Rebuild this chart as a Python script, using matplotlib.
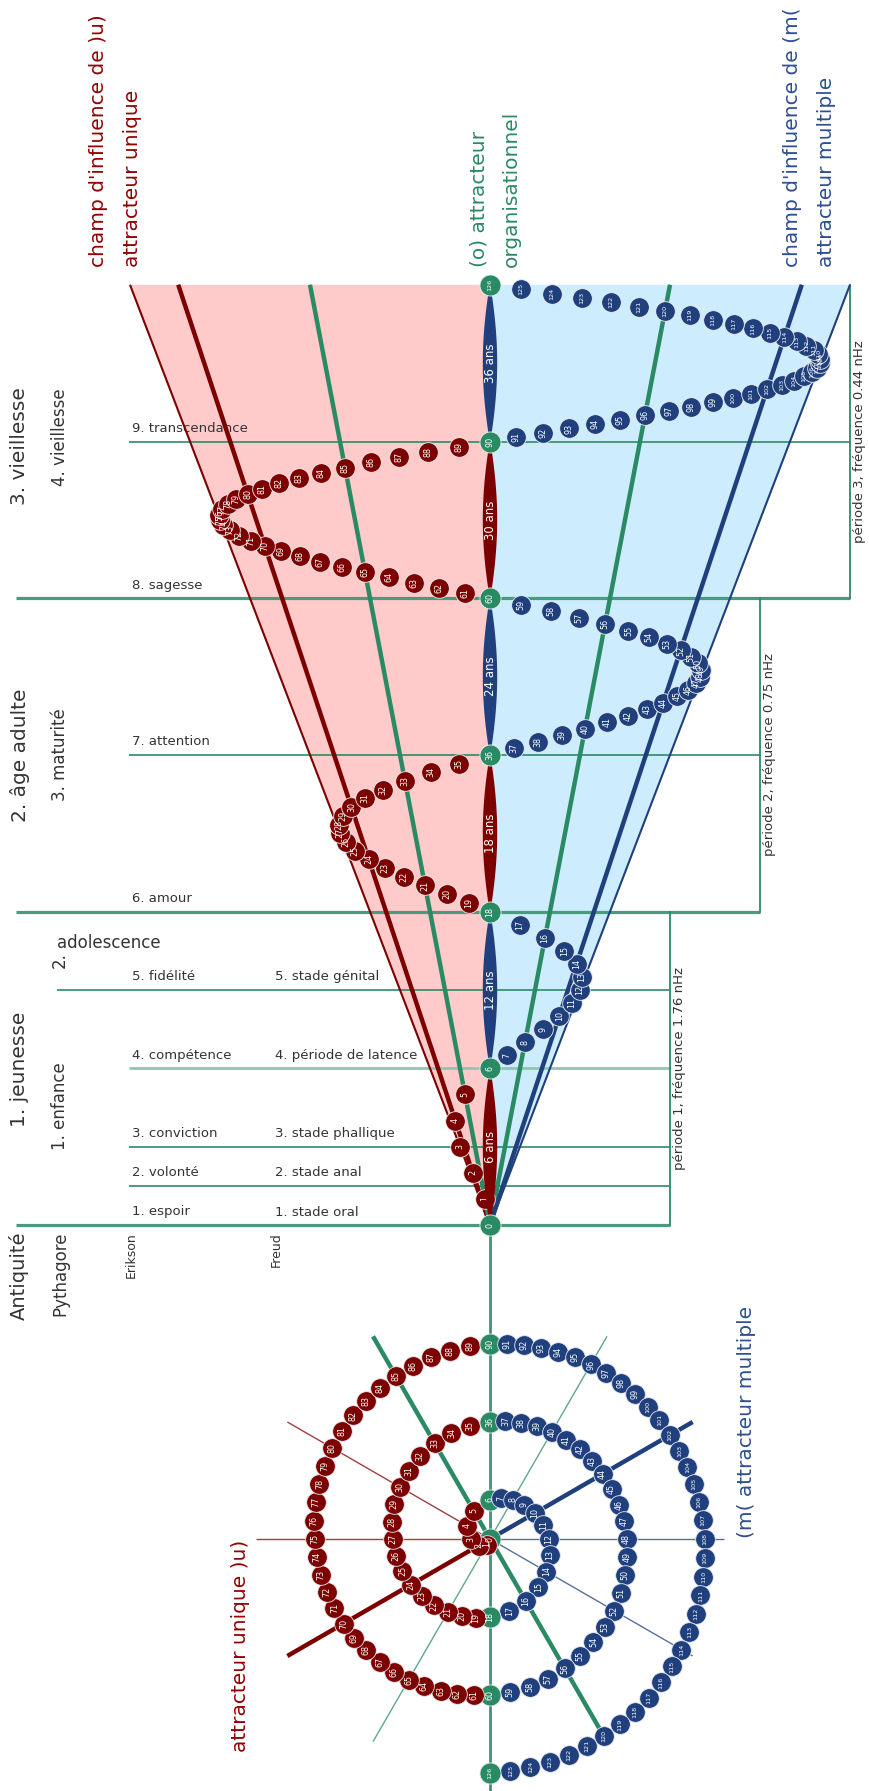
import numpy as np
import matplotlib.pyplot as plt
from matplotlib.patches import Polygon

# ---- data ----
green_ages = [0, 6, 18, 36, 60, 90, 126]
span_labels = ['6 ans', '12 ans', '18 ans', '24 ans', '30 ans', '36 ans']
dot_ages = [n for n in range(1, 126) if n not in green_ages]

stage_ages = [0, 1.5, 3, 6, 12, 18, 36, 60, 90]
erikson = ['1. espoir', '2. volonté', '3. conviction', '4. compétence', '5. fidélité',
           '6. amour', '7. attention', '8. sagesse', '9. transcendance']
freud = ['1. stade oral', '2. stade anal', '3. stade phallique',
         '4. période de latence', '5. stade génital']

period_bounds = [(0, 18), (18, 60), (60, 126)]
period_labels = ['période 1, fréquence 1.76 nHz', 'période 2, fréquence 0.75 nHz',
                 'période 3, fréquence 0.44 nHz']

# polar directions of the rays (0 = up, clockwise) and their style
ray_angles = [270, 300, 240, 330, 150, 210, 30, 60, 90, 120]
ray_colors = ['red', 'red', 'red', 'green', 'green', 'green', 'green', 'blue', 'blue', 'blue']
ray_thick = [False, False, True, True, True, False, False, True, False, False]

# ---- layout ----
CX = 490          # axis x
Y0 = 1225         # age 0 in the cone view
STEP = 156.7      # px per period in the cone view
R_TOP = 60        # px of radius per period (cone view)
PY = 1539         # polar view centre y
R_POL = 39        # px of radius per period (polar view)
line_x0 = [16, 129, 129, 129, 57, 16, 129, 16, 129]
bracket_x = [670, 760, 850]

RED = '#7d0000'
BLUE = '#1f3f7d'
GREEN = '#2a8a64'
PINK = '#ffcaca'
SKY = '#cdecfd'
TXT = '#333333'
col = {'red': RED, 'green': GREEN, 'blue': BLUE}
DOT_S = 200
GDOT_S = 230


def phase(age):
    k = 1
    while 3 * k * (k + 1) < age:
        k += 1
    t = k - 1 + (age - 3 * k * (k - 1)) / (6 * k)
    side = -1 if k % 2 else 1
    return t, np.pi * (t - (k - 1)), side


def top_xy(age):
    t, th, side = phase(age)
    return CX + side * R_TOP * t * np.sin(th), Y0 - STEP * t


def pol_xy(age):
    t, th, side = phase(age)
    r = R_POL * t
    return CX + side * r * np.sin(th), PY - side * r * np.cos(th)


def num_size(n):
    return 5.8 if n < 100 else 4.6


fig = plt.figure(figsize=(8.69, 17.91), dpi=100)
ax = fig.add_axes([0, 0, 1, 1])
ax.set_xlim(0, 869)
ax.set_ylim(1791, 0)
ax.axis('off')

t_max = 6
y_top = Y0 - STEP * t_max

# cone fills
ax.add_patch(Polygon([(CX, Y0), (CX - R_TOP * t_max, y_top), (CX, y_top)],
                     closed=True, fc=PINK, ec='none', zorder=1))
ax.add_patch(Polygon([(CX, Y0), (CX + R_TOP * t_max, y_top), (CX, y_top)],
                     closed=True, fc=SKY, ec='none', zorder=1))

# stage lines and labels
for i, a in enumerate(stage_ages):
    y = Y0 - STEP * phase(a)[0]
    xr = bracket_x[0] if a < 18 else (bracket_x[1] if a < 60 else bracket_x[2])
    if a in (0, 18, 60):
        lw, c = 2.3, '#4a9b7d'
    elif a == 6:
        lw, c = 2.0, '#8fc6b1'
    else:
        lw, c = 1.2, '#2e8a66'
    ax.plot([line_x0[i], xr], [y, y], color=c, lw=lw, zorder=2, solid_capstyle='butt')
    ax.text(132, y - 13, erikson[i], fontsize=9.5, color=TXT, va='center', ha='left')
    if i < len(freud):
        ax.text(275, y - 13, freud[i], fontsize=9.5, color=TXT, va='center', ha='left')

# period brackets
for (a0, a1), lab, bx in zip(period_bounds, period_labels, bracket_x):
    ya = Y0 - STEP * phase(a0)[0]
    yb = Y0 - STEP * phase(a1)[0]
    ax.plot([bx, bx], [ya, yb], color='#2e8a66', lw=1.3, zorder=2)
    ax.text(bx + 10, (ya + yb) / 2, lab, rotation=90, fontsize=9.5, color=TXT,
            ha='center', va='center')

# cone rays (projection of polar rays)
for ang, c, thick in zip(ray_angles, ray_colors, ray_thick):
    xe = CX + R_TOP * t_max * np.sin(np.radians(ang))
    ax.plot([CX, xe], [Y0, y_top], color=col[c], lw=3.2 if thick else 1.5,
            zorder=3 + (0.1 if thick else 0), solid_capstyle='butt')

# centre axis
ax.plot([CX, CX], [y_top, 1791], color='#3d9474', lw=2, zorder=2.5)

# cone view dots
for n in dot_ages:
    x, y = top_xy(n)
    c = RED if phase(n)[2] < 0 else BLUE
    ax.scatter([x], [y], s=DOT_S, color=c, edgecolors='#f0f0f0', linewidths=0.6, zorder=4 + n / 1000)
    ax.text(x, y, str(n), rotation=90, color='white', fontsize=num_size(n),
            ha='center', va='center', zorder=4.5 + n / 1000)

# lenses between green dots
for k in range(6):
    ya = Y0 - STEP * k
    yb = Y0 - STEP * (k + 1)
    s = np.linspace(0, 1, 80)
    hw = 7.2 * np.sin(np.pi * s) ** 0.85
    ys = ya + (yb - ya) * s
    pts = list(zip(CX - hw, ys)) + list(zip((CX + hw)[::-1], ys[::-1]))
    ax.add_patch(Polygon(pts, closed=True, fc=RED if k % 2 == 0 else BLUE, ec='none', zorder=5))
    ax.text(CX, (ya + yb) / 2, span_labels[k], rotation=90, color='white', fontsize=8.5,
            ha='center', va='center', zorder=5.5)

for a in green_ages:
    x, y = top_xy(a)
    ax.scatter([x], [y], s=GDOT_S, color=GREEN, edgecolors='#f0f0f0', linewidths=0.6, zorder=6)
    ax.text(x, y, str(a), rotation=90, color='white', fontsize=num_size(a),
            ha='center', va='center', zorder=6.5)

# polar view rays
R_END = R_POL * t_max
for ang, c, thick in zip(ray_angles, ray_colors, ray_thick):
    th = np.radians(ang)
    ax.plot([CX, CX + R_END * np.sin(th)], [PY, PY - R_END * np.cos(th)],
            color=col[c], lw=3.2 if thick else 1.0, zorder=3 + (0.1 if thick else 0),
            alpha=1 if thick else 0.75, solid_capstyle='butt')

# polar view dots
for n in range(0, 127):
    x, y = pol_xy(n)
    if n in green_ages:
        c, sz = GREEN, GDOT_S
    else:
        c, sz = (RED if phase(n)[2] < 0 else BLUE), DOT_S
    ax.scatter([x], [y], s=sz, color=c, edgecolors='#e8e8f0', linewidths=0.6, zorder=4 + n / 1000)
    ax.text(x, y, str(n), rotation=90, color='white', fontsize=num_size(n),
            ha='center', va='center', zorder=4.5 + n / 1000)

# column headings and ages of life
ax.text(19, 1232, 'Antiquité', rotation=90, fontsize=14, color=TXT, ha='center', va='top')
ax.text(60, 1232, 'Pythagore', rotation=90, fontsize=12, color=TXT, ha='center', va='top')
ax.text(131, 1232, 'Erikson', rotation=90, fontsize=9, color=TXT, ha='center', va='top')
ax.text(276, 1232, 'Freud', rotation=90, fontsize=9, color=TXT, ha='center', va='top')

ax.text(20, 1069, '1. jeunesse', rotation=90, fontsize=14.5, color=TXT, ha='center', va='center')
ax.text(20, 755, '2. âge adulte', rotation=90, fontsize=14.5, color=TXT, ha='center', va='center')
ax.text(20, 446, '3. vieillesse', rotation=90, fontsize=14.5, color=TXT, ha='center', va='center')
ax.text(60, 1106, '1. enfance', rotation=90, fontsize=12, color=TXT, ha='center', va='center')
ax.text(60, 960, '2.', rotation=90, fontsize=12, color=TXT, ha='center', va='center')
ax.text(57, 943, 'adolescence', fontsize=12, color=TXT, ha='left', va='center')
ax.text(60, 755, '3. maturité', rotation=90, fontsize=12, color=TXT, ha='center', va='center')
ax.text(60, 437, '4. vieillesse', rotation=90, fontsize=12, color=TXT, ha='center', va='center')

# titles
TRED, TGREEN, TBLUE = '#930000', '#2a8a62', '#2c4f92'
ax.text(98, 267, "champ d'influence de )u)", rotation=90, fontsize=14.5, color=TRED, ha='center', va='bottom')
ax.text(132, 267, 'attracteur unique', rotation=90, fontsize=14.5, color=TRED, ha='center', va='bottom')
ax.text(479, 267, '(o) attracteur', rotation=90, fontsize=14.5, color=TGREEN, ha='center', va='bottom')
ax.text(511, 267, 'organisationnel', rotation=90, fontsize=14.5, color=TGREEN, ha='center', va='bottom')
ax.text(793, 267, "champ d'influence de (m(", rotation=90, fontsize=14.5, color=TBLUE, ha='center', va='bottom')
ax.text(826, 267, 'attracteur multiple', rotation=90, fontsize=14.5, color=TBLUE, ha='center', va='bottom')

ax.text(241, 1540, 'attracteur unique )u)', rotation=90, fontsize=14.5, color=TRED, ha='center', va='top')
ax.text(746, 1538, '(m( attracteur multiple', rotation=90, fontsize=14.5, color=TBLUE, ha='center', va='bottom')

fig.savefig('out.png', dpi=100)
